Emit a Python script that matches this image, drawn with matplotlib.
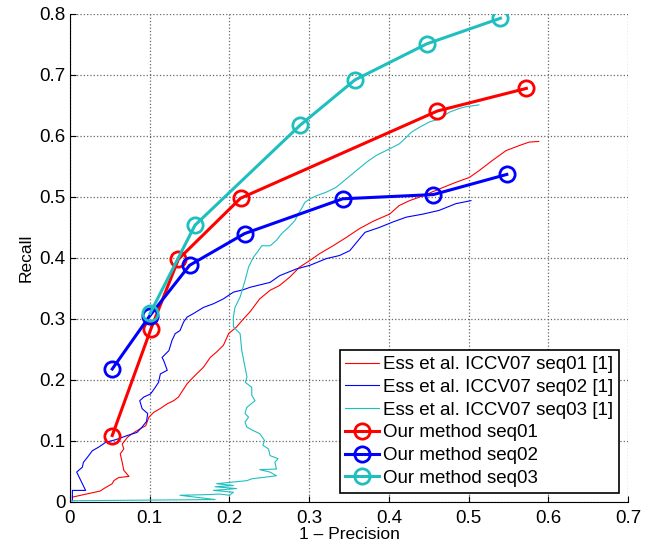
import matplotlib
matplotlib.use("Agg")
import matplotlib.pyplot as plt

plt.rcParams['font.family'] = ['Liberation Sans', 'DejaVu Sans']

CYAN = '#1fbfbf'

# Ess et al. ICCV07 curves (1 - precision, recall)
ess01_x = [0.003, 0.038, 0.0425, 0.053, 0.055, 0.061, 0.074, 0.0675, 0.0655, 0.063, 0.0675, 0.0655,
           0.072, 0.078, 0.088, 0.095, 0.099, 0.105, 0.113, 0.122, 0.13, 0.136, 0.147, 0.155, 0.1675,
           0.176, 0.184, 0.1925, 0.199, 0.209, 0.2175, 0.226, 0.238, 0.251, 0.263, 0.276, 0.288, 0.301,
           0.313, 0.33, 0.347, 0.363, 0.38, 0.401, 0.413, 0.426, 0.443, 0.463, 0.484, 0.501, 0.513,
           0.53, 0.547, 0.563, 0.576, 0.588]
ess01_y = [0.008, 0.018, 0.022, 0.030, 0.035, 0.040, 0.042, 0.052, 0.065, 0.079, 0.087, 0.095,
           0.106, 0.112, 0.120, 0.125, 0.139, 0.147, 0.153, 0.161, 0.166, 0.172, 0.194, 0.205, 0.221,
           0.237, 0.246, 0.257, 0.276, 0.287, 0.300, 0.312, 0.333, 0.347, 0.355, 0.369, 0.385, 0.396,
           0.407, 0.420, 0.434, 0.448, 0.46, 0.472, 0.486, 0.494, 0.502, 0.513, 0.524, 0.532, 0.543,
           0.560, 0.576, 0.584, 0.590, 0.591]

ess02_x = [0.003, 0.003, 0.0196, 0.0084, 0.011, 0.0155, 0.0168, 0.0217, 0.028, 0.036, 0.045, 0.057,
           0.072, 0.084, 0.0905, 0.096, 0.0975, 0.0905, 0.0875, 0.0925, 0.101, 0.107, 0.111, 0.1134,
           0.122, 0.1175, 0.1155, 0.124, 0.128, 0.132, 0.138, 0.1425, 0.1468, 0.155, 0.1675, 0.18,
           0.1925, 0.205, 0.2175, 0.226, 0.251, 0.263, 0.284, 0.301, 0.3216, 0.338, 0.351, 0.363,
           0.37, 0.388, 0.405, 0.422, 0.443, 0.463, 0.484, 0.503]
ess02_y = [0.002, 0.019, 0.019, 0.049, 0.052, 0.057, 0.065, 0.073, 0.084, 0.090, 0.098, 0.102,
           0.109, 0.114, 0.123, 0.132, 0.145, 0.153, 0.166, 0.172, 0.177, 0.188, 0.196, 0.210,
           0.216, 0.232, 0.237, 0.248, 0.265, 0.276, 0.281, 0.295, 0.303, 0.309, 0.319, 0.325,
           0.333, 0.344, 0.348, 0.352, 0.360, 0.371, 0.382, 0.388, 0.399, 0.404, 0.412, 0.431,
           0.442, 0.450, 0.459, 0.467, 0.472, 0.478, 0.489, 0.494]

ess03_x = [0.0, 0.182, 0.138, 0.17, 0.188, 0.2, 0.205, 0.18, 0.209, 0.182, 0.205, 0.184, 0.222,
           0.228, 0.2467, 0.259, 0.251, 0.238, 0.259, 0.257, 0.261, 0.251, 0.249, 0.242, 0.244,
           0.238, 0.23, 0.2217, 0.2196, 0.224, 0.2196, 0.2217, 0.2321, 0.228, 0.228, 0.22, 0.222,
           0.2155, 0.2134, 0.205, 0.205, 0.207, 0.2134, 0.2196, 0.224, 0.23, 0.2364, 0.2405, 0.251,
           0.259, 0.2655, 0.274, 0.282, 0.2863, 0.2905, 0.2946, 0.301, 0.309, 0.3217, 0.334, 0.347,
           0.359, 0.372, 0.384, 0.401, 0.413, 0.422, 0.428, 0.438, 0.451, 0.463, 0.476, 0.488,
           0.497, 0.513]
ess03_y = [0.002, 0.004, 0.011, 0.012, 0.013, 0.011, 0.016, 0.019, 0.022, 0.025, 0.027, 0.030, 0.035,
           0.038, 0.041, 0.043, 0.049, 0.053, 0.054, 0.065, 0.071, 0.076, 0.087, 0.093, 0.101,
           0.112, 0.117, 0.123, 0.131, 0.139, 0.145, 0.155, 0.166, 0.175, 0.188, 0.196, 0.205,
           0.248, 0.276, 0.287, 0.303, 0.319, 0.336, 0.363, 0.385, 0.401, 0.412, 0.420, 0.420,
           0.429, 0.440, 0.450, 0.461, 0.472, 0.481, 0.491, 0.497, 0.502, 0.508, 0.516, 0.530,
           0.543, 0.557, 0.568, 0.579, 0.587, 0.598, 0.606, 0.614, 0.623, 0.628, 0.639, 0.645,
           0.648, 0.651]

# our method
our01_x = [0.053, 0.1016, 0.136, 0.214, 0.461, 0.5725]
our01_y = [0.109, 0.284, 0.398, 0.498, 0.641, 0.678]
our02_x = [0.053, 0.10, 0.150, 0.219, 0.342, 0.456, 0.548]
our02_y = [0.218, 0.305, 0.388, 0.440, 0.497, 0.504, 0.537]
our03_x = [0.1004, 0.1567, 0.289, 0.3575, 0.4475, 0.54]
our03_y = [0.309, 0.4536, 0.618, 0.692, 0.751, 0.793]

labels = ["Ess et al. ICCV07 seq01 [1]", "Ess et al. ICCV07 seq02 [1]",
          "Ess et al. ICCV07 seq03 [1]", "Our method seq01", "Our method seq02",
          "Our method seq03"]

fig = plt.figure(figsize=(6.56, 5.46), dpi=100)
ax = fig.add_axes([0.1067, 0.0806, 0.8506, 0.8938])

ax.plot(ess01_x, ess01_y, color='red', lw=0.8, label=labels[0])
ax.plot(ess02_x, ess02_y, color='blue', lw=0.8, label=labels[1])
ax.plot(ess03_x, ess03_y, color=CYAN, lw=0.8, label=labels[2])

mk = dict(marker='o', markersize=11, markerfacecolor='none', markeredgewidth=2, lw=2.2)
ax.plot(our01_x, our01_y, color='red', label=labels[3], **mk)
ax.plot(our02_x, our02_y, color='blue', label=labels[4], **mk)
ax.plot(our03_x, our03_y, color=CYAN, label=labels[5], **mk)

ax.set_xlim(0, 0.7)
ax.set_ylim(0, 0.8)
ax.set_xticks([0, 0.1, 0.2, 0.3, 0.4, 0.5, 0.6, 0.7])
ax.set_xticklabels(['0', '0.1', '0.2', '0.3', '0.4', '0.5', '0.6', '0.7'])
ax.set_yticks([0, 0.1, 0.2, 0.3, 0.4, 0.5, 0.6, 0.7, 0.8])
ax.set_yticklabels(['0', '0.1', '0.2', '0.3', '0.4', '0.5', '0.6', '0.7', '0.8'])
ax.tick_params(direction='in', labelsize=13.5, length=4)
ax.tick_params(axis='x', pad=6)
ax.tick_params(axis='y', pad=3)
ax.grid(True, linestyle=':', color='0.4', lw=0.9)
ax.spines['top'].set_visible(False)
ax.spines['right'].set_visible(False)
ax.set_xlabel("1 – Precision", fontsize=12.5, labelpad=0)
ax.set_ylabel("Recall", fontsize=12.5, labelpad=4)

leg = ax.legend(loc='lower right', fontsize=13.5, fancybox=False, framealpha=1,
                edgecolor='black', handlelength=1.8, handletextpad=0.2,
                labelspacing=0.3, borderpad=0.3, borderaxespad=0.5)
leg.get_frame().set_linewidth(1.2)

fig.savefig("out.png", dpi=100)
